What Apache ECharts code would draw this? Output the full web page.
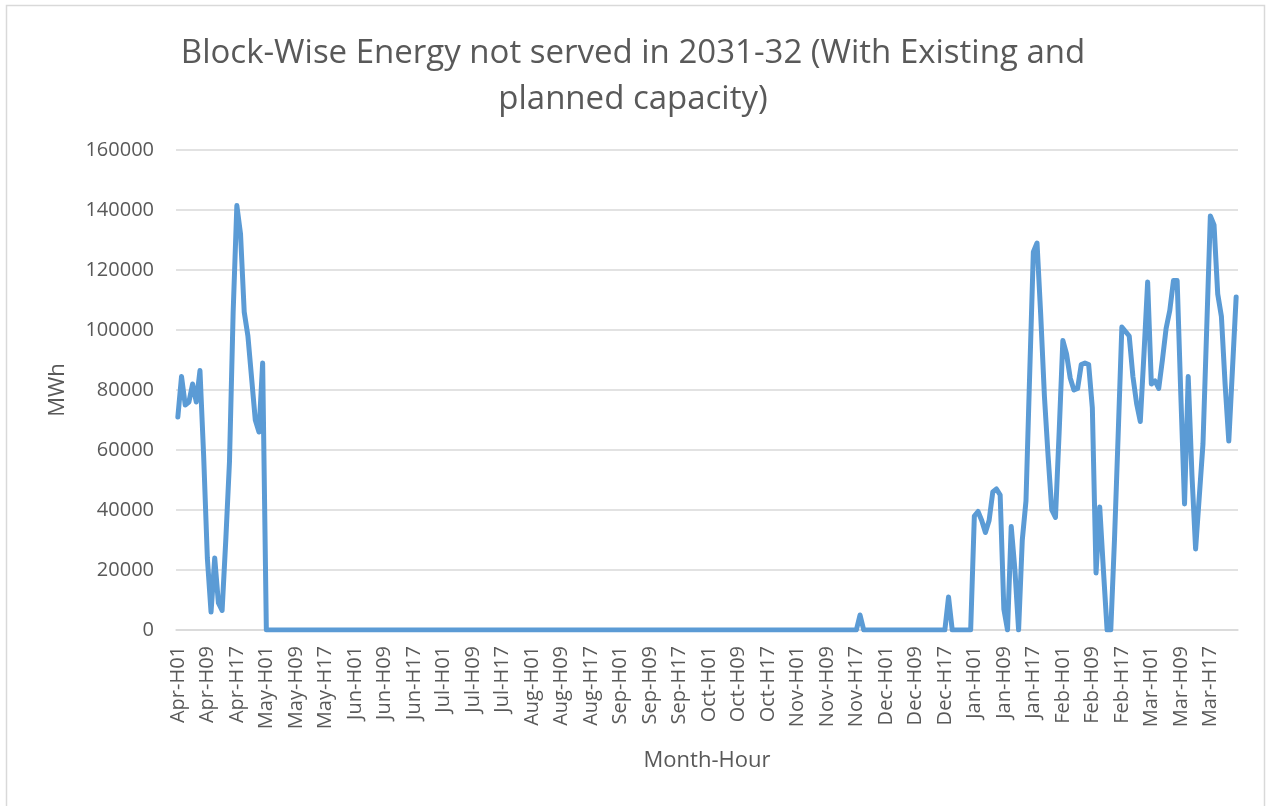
<!DOCTYPE html>
<html>
<head>
<meta charset="utf-8">
<title>Block-Wise Energy not served in 2031-32</title>
<script src="https://cdn.jsdelivr.net/npm/echarts@6/dist/echarts.min.js"></script>
<style>
    html, body { margin: 0; padding: 0; background: #fff; }
    #chart { width: 1266px; height: 806px; }
</style>
</head>
<body>
<div id="chart"></div>
<script>
// month order of the financial year, hours per block
const months = ['Apr', 'May', 'Jun', 'Jul', 'Aug', 'Sep', 'Oct', 'Nov', 'Dec', 'Jan', 'Feb', 'Mar']
const hours = ['H01', 'H02', 'H03', 'H04', 'H05', 'H06', 'H07', 'H08', 'H09', 'H10', 'H11', 'H12',
               'H13', 'H14', 'H15', 'H16', 'H17', 'H18', 'H19', 'H20', 'H21', 'H22', 'H23', 'H24']

// energy not served (MWh), one value per hour block
const apr = [71000, 84500, 75000, 76000, 82000, 76000, 86500, 58000, 24000, 6000, 24000, 9000,
             6500, 30000, 56000, 106000, 141500, 132000, 106000, 98000, 84000, 70000, 66000, 89000]
const may = [0, 0, 0, 0, 0, 0, 0, 0, 0, 0, 0, 0, 0, 0, 0, 0, 0, 0, 0, 0, 0, 0, 0, 0]
const jun = [0, 0, 0, 0, 0, 0, 0, 0, 0, 0, 0, 0, 0, 0, 0, 0, 0, 0, 0, 0, 0, 0, 0, 0]
const jul = [0, 0, 0, 0, 0, 0, 0, 0, 0, 0, 0, 0, 0, 0, 0, 0, 0, 0, 0, 0, 0, 0, 0, 0]
const aug = [0, 0, 0, 0, 0, 0, 0, 0, 0, 0, 0, 0, 0, 0, 0, 0, 0, 0, 0, 0, 0, 0, 0, 0]
const sep = [0, 0, 0, 0, 0, 0, 0, 0, 0, 0, 0, 0, 0, 0, 0, 0, 0, 0, 0, 0, 0, 0, 0, 0]
const oct = [0, 0, 0, 0, 0, 0, 0, 0, 0, 0, 0, 0, 0, 0, 0, 0, 0, 0, 0, 0, 0, 0, 0, 0]
const nov = [0, 0, 0, 0, 0, 0, 0, 0, 0, 0, 0, 0, 0, 0, 0, 0, 0, 5000, 0, 0, 0, 0, 0, 0]
const dec = [0, 0, 0, 0, 0, 0, 0, 0, 0, 0, 0, 0, 0, 0, 0, 0, 0, 11000, 0, 0, 0, 0, 0, 0]
const jan = [38000, 39500, 36500, 32500, 36500, 46000, 47000, 45000, 7000, 0, 34500, 20000,
             0, 30000, 43000, 85000, 126000, 129000, 105000, 78000, 58000, 40000, 37500, 66000]
const feb = [96500, 92000, 84000, 80000, 80500, 88500, 89000, 88500, 74000, 19000, 41000, 20000,
             0, 0, 30000, 65000, 101000, 99500, 98000, 84500, 75500, 69500, 92000, 116000]
const mar = [82000, 83000, 80500, 90000, 100500, 106500, 116500, 116500, 78000, 42000, 84500, 52000,
             27000, 44500, 62000, 100000, 138000, 135000, 112000, 104500, 82000, 63000, 87000, 111000]

const yTicks = [0, 20000, 40000, 60000, 80000, 100000, 120000, 140000, 160000]

let categories = []
months.forEach(function (m) {
    hours.forEach(function (h) {
        categories.push(m + '-' + h)
    })
})
let values = [].concat(apr, may, jun, jul, aug, sep, oct, nov, dec, jan, feb, mar)

const textColor = '#595959'
const gridColor = '#d9d9d9'
const font = '"Open Sans", "Noto Sans", sans-serif'

let chart = echarts.init(document.getElementById('chart'), null, { renderer: 'canvas' })
chart.setOption({
    animation: false,
    backgroundColor: '#fff',
    title: {
        text: 'Block-Wise Energy not served in 2031-32 (With Existing and\nplanned capacity)',
        left: 'center',
        top: 26,
        textStyle: {
            color: textColor,
            fontFamily: font,
            fontWeight: 'normal',
            fontSize: 33,
            lineHeight: 46
        }
    },
    graphic: [
        {
            // chart area border
            type: 'rect',
            shape: { x: 6.5, y: 5.5, width: 1258, height: 820 },
            style: { fill: 'none', stroke: gridColor, lineWidth: 1.5 },
            silent: true
        }
    ],
    grid: {
        left: 176,
        right: 28,
        top: 150,
        bottom: 176
    },
    xAxis: {
        type: 'category',
        data: categories,
        boundaryGap: true,
        name: 'Month-Hour',
        nameLocation: 'middle',
        nameGap: 120,
        nameTextStyle: { color: textColor, fontFamily: font, fontSize: 22 },
        axisLine: { show: true, lineStyle: { color: gridColor, width: 1.5 } },
        axisTick: { show: false },
        axisLabel: {
            interval: 7,
            rotate: 90,
            margin: 16,
            color: textColor,
            fontFamily: font,
            fontSize: 20
        }
    },
    yAxis: {
        type: 'value',
        min: yTicks[0],
        max: yTicks[yTicks.length - 1],
        interval: yTicks[1] - yTicks[0],
        name: 'MWh',
        nameLocation: 'middle',
        nameRotate: 90,
        nameGap: 107,
        nameTextStyle: { color: textColor, fontFamily: font, fontSize: 22 },
        axisLine: { show: false },
        axisTick: { show: false },
        splitLine: { lineStyle: { color: gridColor, width: 1.5 } },
        axisLabel: {
            margin: 22,
            color: textColor,
            fontFamily: font,
            fontSize: 20,
            formatter: function (v) { return String(v) }
        }
    },
    series: [
        {
            name: 'Energy not served',
            type: 'line',
            data: values,
            symbol: 'none',
            lineStyle: {
                color: '#5b9bd5',
                width: 5,
                join: 'round',
                cap: 'round'
            }
        }
    ]
})
</script>
</body>
</html>
